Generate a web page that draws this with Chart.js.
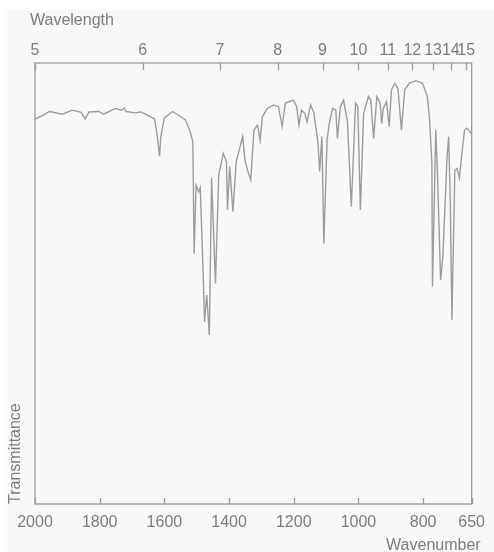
<!DOCTYPE html>
<html lang="en">
<head>
  <meta charset="UTF-8">
  <title>IR spectrum</title>
  <script src="https://cdn.jsdelivr.net/npm/chart.js"></script>
  <style>
    body { margin: 0; background: #fff; }
    #wrap { width: 494px; height: 552px; }
  </style>
</head>
<body>
  <div id="wrap"><canvas id="irChart" width="494" height="552"></canvas></div>

  <script>
    // spectrum (cm-1 / % transmittance)
    const wavenumbers = [2000,1976,1955,1915,1885,1857,1845,1833,1803,1788,1751,1733,1724,1718,1691,1672,1651,1630,1621,1615,1611,1600,1575,1555,1535,1520,1512,1508,1502,1494,1489,1479,1476,1469,1461,1454,1442,1432,1418,1408,1405,1398,1388,1378,1358,1351,1343,1333,1323,1312,1304,1297,1282,1262,1247,1236,1226,1201,1191,1184,1176,1166,1159,1148,1138,1125,1120,1113,1107,1097,1090,1080,1070,1065,1056,1046,1034,1022,1009,1002,994,984,969,962,953,943,933,928,923,913,905,898,888,878,867,857,842,822,802,787,780,773,771,761,756,746,739,726,721,716,711,702,695,688,680,672,665,650];
    const transmittance = [87.3,88.1,89.0,88.4,89.3,88.8,87.3,88.9,89.0,88.4,89.7,89.3,89.8,89.0,88.7,88.9,88.1,87.3,83.0,78.8,83.3,87.5,89.0,88.1,87.1,84.4,82.2,56.8,72.3,70.8,71.7,49.7,41.3,47.4,38.3,73.9,50.0,74.6,79.5,77.6,66.7,76.5,66.3,77.6,83.3,78.0,75.7,73.5,84.8,85.9,82.5,87.8,89.7,90.5,90.1,85.6,90.9,91.6,90.1,85.9,89.3,88.6,86.7,90.5,88.7,81.9,75.4,83.3,59.1,82.5,86.3,89.7,89.3,82.9,90.1,91.6,86.7,67.4,90.9,90.1,66.7,88.6,92.4,91.6,82.9,92.4,90.9,86.3,89.7,91.2,85.6,93.9,95.4,94.3,84.8,93.9,95.5,96.0,95.4,92.4,87.1,77.3,49.3,84.8,75.7,50.8,56.1,78.8,83.3,68.2,41.7,75.7,76.1,73.9,79.5,84.8,85.2,84.0];

    const wavenumberTicks = [2000, 1800, 1600, 1400, 1200, 1000, 800, 650];
    const wavelengthTicks = [5, 6, 7, 8, 9, 10, 11, 12, 13, 14, 15]; // micrometres

    const grey = '#7c7c7c';
    const font = { family: 'Liberation Sans, Arial, sans-serif', size: 16 };

    // box round the plot, inward tick marks, paper background
    // (axis titles of the reversed x scales are drawn here too, chart.js flips their alignment)
    const frame = {
      id: 'frame',
      beforeDraw(chart) {
        const ctx = chart.ctx;
        ctx.save();
        ctx.fillStyle = '#f8f8f8';
        ctx.fillRect(7, 10, chart.width - 7, chart.height - 10);
        ctx.restore();
      },
      afterDraw(chart) {
        const { ctx, chartArea: a, scales } = chart;
        ctx.save();
        ctx.strokeStyle = '#9a9a9a';
        ctx.lineWidth = 1.3;
        ctx.strokeRect(a.left, a.top, a.right - a.left, a.bottom - a.top);
        ctx.beginPath();
        scales.x.ticks.forEach(t => {
          const px = Math.round(scales.x.getPixelForValue(t.value)) + 0.5;
          ctx.moveTo(px, a.bottom);
          ctx.lineTo(px, a.bottom - 6);
        });
        scales.x2.ticks.forEach(t => {
          const px = Math.round(scales.x2.getPixelForValue(t.value)) + 0.5;
          ctx.moveTo(px, a.top);
          ctx.lineTo(px, a.top + 7);
        });
        ctx.stroke();

        ctx.fillStyle = grey;
        ctx.font = font.size + 'px ' + font.family;
        ctx.textBaseline = 'middle';
        ctx.textAlign = 'left';
        ctx.fillText('Wavelength', a.left - 5, 21);
        ctx.textAlign = 'right';
        ctx.fillText('Wavenumber', a.right + 9, scales.x.bottom - 6);
        ctx.restore();
      }
    };

    const ctx = document.getElementById('irChart').getContext('2d');
    new Chart(ctx, {
      type: 'line',
      data: {
        datasets: [{
          data: wavenumbers.map((w, i) => ({ x: w, y: transmittance[i] })),
          borderColor: '#9c9c9c',
          borderWidth: 1.4,
          pointRadius: 0,
          tension: 0,
          fill: false
        }]
      },
      options: {
        responsive: false,
        animation: false,
        layout: { padding: { left: 0, right: 15, top: 0, bottom: 0 } },
        plugins: { legend: { display: false }, tooltip: { enabled: false } },
        scales: {
          x: {
            type: 'linear',
            position: 'bottom',
            reverse: true,
            min: 650,
            max: 2000,
            afterBuildTicks: s => { s.ticks = wavenumberTicks.map(v => ({ value: v })); },
            afterFit: s => { s.height = 48; },
            grid: { display: false, drawTicks: false },
            border: { display: false },
            ticks: { color: grey, font: font, padding: 9, autoSkip: false, maxRotation: 0, callback: v => String(v) }
          },
          x2: {
            type: 'linear',
            position: 'top',
            reverse: true,
            min: 650,
            max: 2000,
            afterBuildTicks: s => { s.ticks = wavelengthTicks.map(l => ({ value: 10000 / l })); },
            afterFit: s => { s.height = 63; },
            grid: { display: false, drawTicks: false },
            border: { display: false },
            ticks: { color: grey, font: font, padding: 3, autoSkip: false, maxRotation: 0, callback: v => String(Math.round(10000 / v)) }
          },
          y: {
            type: 'linear',
            min: 0,
            max: 100,
            afterFit: s => { s.width = 35; },
            grid: { display: false, drawTicks: false },
            border: { display: false },
            ticks: { display: false },
            title: { display: true, text: 'Transmittance', align: 'start', color: grey, font: font, padding: { top: 6, bottom: 0 } }
          }
        }
      },
      plugins: [frame]
    });
  </script>
</body>
</html>
